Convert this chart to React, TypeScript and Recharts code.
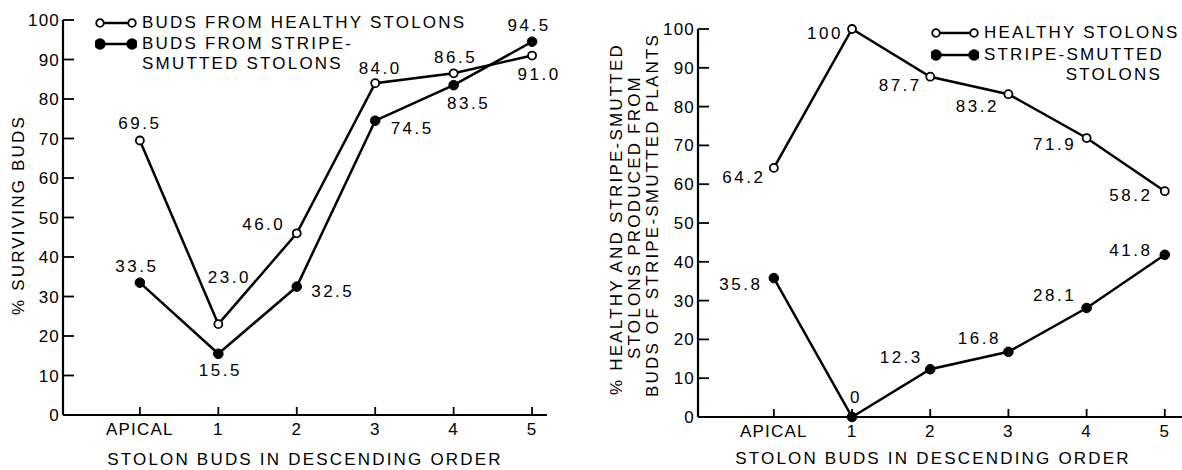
import { LineChart, Line, XAxis, YAxis, LabelList } from "recharts";

const budLabels = ["APICAL", "1", "2", "3", "4", "5"];
const budIndex = [0, 1, 2, 3, 4, 5];
const pctTicks = [0, 10, 20, 30, 40, 50, 60, 70, 80, 90, 100];

// left panel: % surviving buds
const survivingHealthy = [69.5, 23.0, 46.0, 84.0, 86.5, 91.0];
const survivingSmutted = [33.5, 15.5, 32.5, 74.5, 83.5, 94.5];

// right panel: % healthy / stripe-smutted stolons from buds of smutted plants
const producedHealthy = [64.2, 100, 87.7, 83.2, 71.9, 58.2];
const producedSmutted = [35.8, 0, 12.3, 16.8, 28.1, 41.8];

// where each value label sits relative to its point [dx, dy]
const survHealthyOff = [[0, -17], [11, -47], [-33, -9], [5, -15], [2, -16], [7, 19]];
const survSmuttedOff = [[-3, -16], [2, 17], [36, 5], [37, 8], [15, 18], [-3, -16]];
const prodHealthyOff = [[-30, 10], [-27, 4], [-30, 9], [-31, 12], [-32, 6], [-34, 4]];
const prodSmuttedOff = [[-33, 6], [4, -20], [-29, -12], [-29, -13], [-32, -12], [-34, -4]];

const FONT = '"Liberation Sans", Arial, sans-serif';
const INK = "#000";

const leftData = budIndex.map((i) => ({
  x: i,
  healthy: survivingHealthy[i],
  smutted: survivingSmutted[i],
}));
const rightData = budIndex.map((i) => ({
  x: i,
  healthy: producedHealthy[i],
  smutted: producedSmutted[i],
}));

const fmtLeft = (v: number) => v.toFixed(1);
const fmtRight = (v: number) => (Number.isInteger(v) ? String(v) : v.toFixed(1));

function valueLabel(offsets: number[][], fmt: (v: number) => string) {
  return (props: any) => {
    const { x, y, value, index } = props;
    const [dx, dy] = offsets[index] ?? [0, -14];
    return (
      <text
        x={Number(x) + dx}
        y={Number(y) + dy}
        textAnchor="middle"
        dominantBaseline="central"
        fill={INK}
        style={{ fontFamily: FONT, fontSize: 17, letterSpacing: 2.5 }}
      >
        {fmt(Number(value))}
      </text>
    );
  };
}

const tickStyle = { fill: INK, fontSize: 17, fontFamily: FONT, letterSpacing: 1.2 };

function Chart({
  width,
  data,
  domain,
  margin,
  hOff,
  sOff,
  fmt,
}: {
  width: number;
  data: any[];
  domain: [number, number];
  margin: { top: number; right: number; bottom: number; left: number };
  hOff: number[][];
  sOff: number[][];
  fmt: (v: number) => string;
}) {
  return (
    <LineChart width={width} height={470} data={data} margin={margin}>
      <XAxis
        type="number"
        dataKey="x"
        domain={domain}
        allowDataOverflow
        ticks={budIndex}
        tickFormatter={(i: number) => budLabels[i]}
        height={30}
        tickSize={-8}
        tickMargin={16}
        tick={tickStyle}
        axisLine={{ stroke: INK, strokeWidth: 2.2 }}
        tickLine={{ stroke: INK, strokeWidth: 1.8 }}
      />
      <YAxis
        type="number"
        domain={[0, 100]}
        ticks={pctTicks}
        width={43}
        tickSize={-11}
        tickMargin={14}
        tick={tickStyle}
        axisLine={{ stroke: INK, strokeWidth: 2.2 }}
        tickLine={{ stroke: INK, strokeWidth: 1.8 }}
      />
      <Line
        dataKey="healthy"
        type="linear"
        stroke={INK}
        strokeWidth={2.5}
        dot={{ r: 4, fill: "#fff", stroke: INK, strokeWidth: 1.8 }}
        isAnimationActive={false}
      >
        <LabelList dataKey="healthy" content={valueLabel(hOff, fmt)} />
      </Line>
      <Line
        dataKey="smutted"
        type="linear"
        stroke={INK}
        strokeWidth={2.5}
        dot={{ r: 4.8, fill: INK, stroke: INK, strokeWidth: 1 }}
        isAnimationActive={false}
      >
        <LabelList dataKey="smutted" content={valueLabel(sOff, fmt)} />
      </Line>
    </LineChart>
  );
}

const txt: React.CSSProperties = {
  position: "absolute",
  fontFamily: FONT,
  fontSize: 17,
  letterSpacing: 2.2,
  color: INK,
  whiteSpace: "nowrap",
  lineHeight: "20px",
};

function Marker({ filled, width }: { filled: boolean; width: number }) {
  return (
    <svg width={width + 10} height={12} style={{ display: "block" }}>
      <line x1={5} y1={6} x2={width + 5} y2={6} stroke={INK} strokeWidth={2.5} />
      <circle cx={5} cy={6} r={filled ? 4.8 : 3.8} fill={filled ? INK : "#fff"} stroke={INK} strokeWidth={1.8} />
      <circle cx={width + 5} cy={6} r={filled ? 4.8 : 3.8} fill={filled ? INK : "#fff"} stroke={INK} strokeWidth={1.8} />
    </svg>
  );
}

function Rotated({ cx, cy, children }: { cx: number; cy: number; children: string }) {
  return (
    <div
      style={{
        ...txt,
        left: cx - 250,
        top: cy - 10,
        width: 500,
        textAlign: "center",
        transform: "rotate(-90deg)",
        transformOrigin: "50% 50%",
      }}
    >
      {children}
    </div>
  );
}

export default function App() {
  return (
    <div style={{ position: "absolute", left: 0, top: 0, width: 1182, height: 470, background: "#fff", overflow: "hidden" }}>
      <div style={{ position: "absolute", left: 0, top: 0 }}>
        <Chart
          width={560}
          data={leftData}
          domain={[-0.98, 5.19]}
          margin={{ top: 20, right: 13, bottom: 25, left: 20 }}
          hOff={survHealthyOff}
          sOff={survSmuttedOff}
          fmt={fmtLeft}
        />
      </div>
      <div style={{ position: "absolute", left: 580, top: 0 }}>
        <Chart
          width={602}
          data={rightData}
          domain={[-0.97, 5.22]}
          margin={{ top: 29, right: 0, bottom: 23, left: 75 }}
          hOff={prodHealthyOff}
          sOff={prodSmuttedOff}
          fmt={fmtRight}
        />
      </div>

      {/* left legend */}
      <div style={{ position: "absolute", left: 95, top: 17 }}>
        <Marker filled={false} width={32} />
      </div>
      <div style={{ ...txt, left: 142, top: 13 }}>BUDS FROM HEALTHY STOLONS</div>
      <div style={{ position: "absolute", left: 95, top: 38 }}>
        <Marker filled width={32} />
      </div>
      <div style={{ ...txt, left: 142, top: 34 }}>BUDS FROM STRIPE-</div>
      <div style={{ ...txt, left: 142, top: 54 }}>SMUTTED STOLONS</div>

      {/* right legend */}
      <div style={{ position: "absolute", left: 931, top: 27 }}>
        <Marker filled={false} width={38} />
      </div>
      <div style={{ ...txt, left: 984, top: 23 }}>HEALTHY STOLONS</div>
      <div style={{ position: "absolute", left: 931, top: 49 }}>
        <Marker filled width={38} />
      </div>
      <div style={{ ...txt, left: 984, top: 45, width: 178, textAlign: "right" }}>
        STRIPE-SMUTTED
        <br />
        STOLONS
      </div>

      {/* axis titles */}
      <Rotated cx={19} cy={215}>% SURVIVING BUDS</Rotated>
      <Rotated cx={617} cy={219}>% HEALTHY AND STRIPE-SMUTTED</Rotated>
      <Rotated cx={635} cy={217}>STOLONS PRODUCED FROM</Rotated>
      <Rotated cx={653} cy={215}>BUDS OF STRIPE-SMUTTED PLANTS</Rotated>
      <div style={{ ...txt, left: 63, top: 450, width: 484, textAlign: "center" }}>
        STOLON BUDS IN DESCENDING ORDER
      </div>
      <div style={{ ...txt, left: 698, top: 449, width: 470, textAlign: "center" }}>
        STOLON BUDS IN DESCENDING ORDER
      </div>
    </div>
  );
}
